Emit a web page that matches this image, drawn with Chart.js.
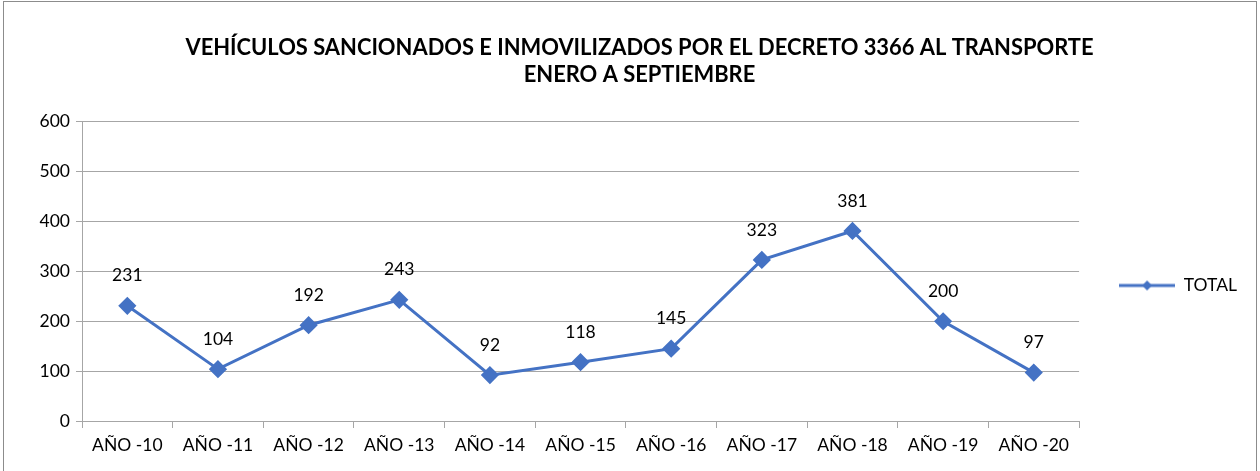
<!DOCTYPE html>
<html>
<head>
<meta charset="utf-8">
<script src="https://cdn.jsdelivr.net/npm/chart.js@4/dist/chart.umd.min.js"></script>
<style>
  html, body { margin: 0; padding: 0; background: #fff; }
  #wrap { width: 1260px; height: 471px; position: relative; }
</style>
</head>
<body>
<div id="wrap"><canvas id="c" width="1260" height="471"></canvas></div>
<script>
const categories = ['AÑO -10', 'AÑO -11', 'AÑO -12', 'AÑO -13', 'AÑO -14', 'AÑO -15', 'AÑO -16', 'AÑO -17', 'AÑO -18', 'AÑO -19', 'AÑO -20'];
const totals = [231, 104, 192, 243, 92, 118, 145, 323, 381, 200, 97];
const yTicks = [0, 100, 200, 300, 400, 500, 600];
const titleLines = ['VEHÍCULOS SANCIONADOS E INMOVILIZADOS POR EL DECRETO 3366 AL TRANSPORTE', 'ENERO A SEPTIEMBRE'];
const seriesName = 'TOTAL';

const BLUE = '#4472C4';
const FONT = "Lato, 'Open Sans', sans-serif";

// legend symbol: short line with a diamond in the middle
function legendSymbol() {
  const cv = document.createElement('canvas');
  cv.width = 56; cv.height = 14;
  const g = cv.getContext('2d');
  g.strokeStyle = BLUE; g.lineWidth = 3;
  g.beginPath(); g.moveTo(0, 7); g.lineTo(56, 7); g.stroke();
  g.fillStyle = BLUE;
  g.beginPath(); g.moveTo(28, 2); g.lineTo(33, 7); g.lineTo(28, 12); g.lineTo(23, 7); g.closePath(); g.fill();
  return cv;
}

// value labels above each point
const valueLabels = {
  id: 'valueLabels',
  afterDatasetsDraw(chart) {
    const ctx = chart.ctx;
    const meta = chart.getDatasetMeta(0);
    ctx.save();
    ctx.font = '17.5px ' + FONT;
    ctx.fillStyle = '#000';
    ctx.textAlign = 'center';
    ctx.textBaseline = 'middle';
    meta.data.forEach((pt, i) => {
      ctx.fillText(String(chart.data.datasets[0].data[i]), pt.x, pt.y - 30);
    });
    ctx.restore();
  }
};

// push the legend entry down so it sits a little below the middle of the plot
const legendDrop = {
  id: 'legendDrop',
  afterLayout(chart) {
    if (chart.legend) chart.legend.top += 86;
  }
};

// outer frame of the chart
const frame = {
  id: 'frame',
  afterDraw(chart) {
    const ctx = chart.ctx;
    ctx.save();
    ctx.strokeStyle = '#8c8c8c';
    ctx.lineWidth = 1;
    ctx.strokeRect(3.5, 1.5, chart.width - 7, chart.height + 10);
    ctx.restore();
  }
};

new Chart(document.getElementById('c'), {
  type: 'line',
  data: {
    labels: categories,
    datasets: [{
      label: seriesName,
      data: totals,
      borderColor: BLUE,
      backgroundColor: BLUE,
      borderWidth: 3,
      pointStyle: 'rectRot',
      pointRadius: 7,
      pointHoverRadius: 7,
      tension: 0
    }]
  },
  options: {
    responsive: false,
    animation: false,
    layout: { padding: { left: 32, right: 13, top: 22, bottom: 8 } },
    plugins: {
      title: {
        display: true,
        text: titleLines,
        color: '#000',
        font: { family: FONT, size: 21.9, weight: 'bold', lineHeight: 1.25 },
        padding: { top: 12, bottom: 33 }
      },
      legend: {
        position: 'right',
        labels: {
          usePointStyle: true,
          pointStyleWidth: 56,
          color: '#000',
          font: { family: FONT, size: 17.5 },
          padding: 40,
          generateLabels() {
            return [{
              text: seriesName,
              pointStyle: legendSymbol(),
              fillStyle: BLUE,
              strokeStyle: BLUE,
              lineWidth: 0,
              datasetIndex: 0
            }];
          }
        }
      },
      tooltip: { enabled: false }
    },
    scales: {
      x: {
        offset: true,
        grid: { offset: true, drawOnChartArea: false, color: '#a6a6a6', tickLength: 7 },
        border: { color: '#a6a6a6' },
        ticks: { color: '#000', font: { family: FONT, size: 17.5 }, maxRotation: 0, padding: 7 }
      },
      y: {
        min: 0, max: 600,
        afterBuildTicks(scale) { scale.ticks = yTicks.map(v => ({ value: v })); },
        afterFit(scale) { scale.width = 50; },
        grid: { color: '#a6a6a6', tickLength: 6 },
        border: { color: '#a6a6a6' },
        ticks: { color: '#000', font: { family: FONT, size: 17.5 }, padding: 6 }
      }
    }
  },
  plugins: [valueLabels, legendDrop, frame]
});
</script>
</body>
</html>
